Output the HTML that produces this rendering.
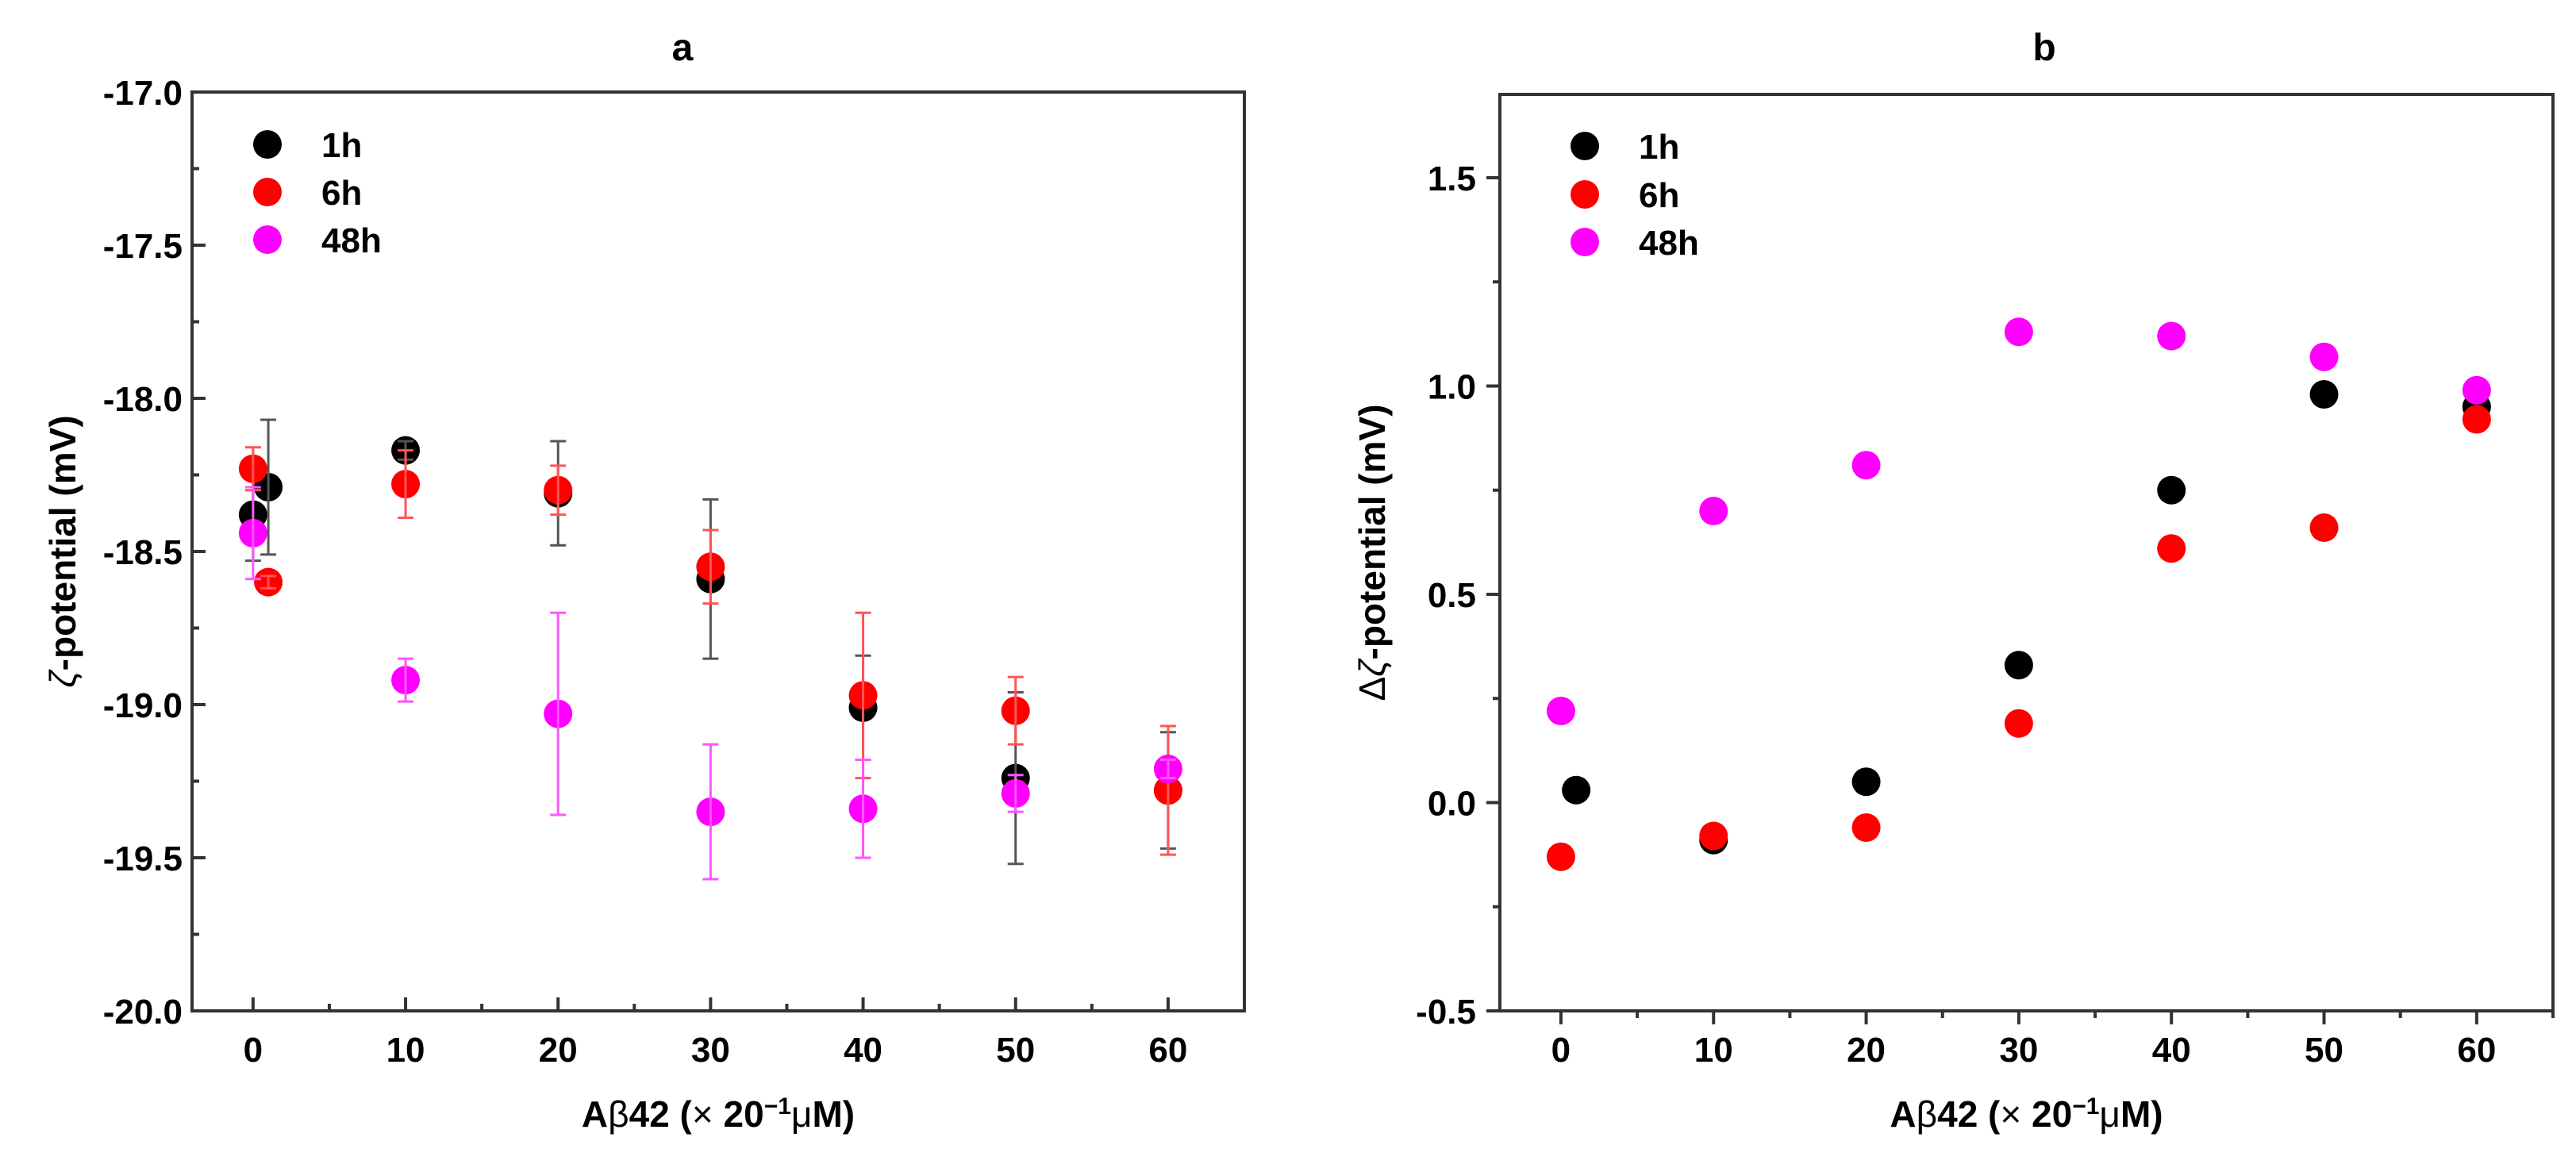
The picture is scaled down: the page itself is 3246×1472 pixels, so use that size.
<!DOCTYPE html>
<html><head><meta charset="utf-8"><style>
html,body{margin:0;padding:0;background:#fff;}
svg{display:block;font-family:"Liberation Sans",Arial,sans-serif;}
</style></head><body>
<svg id="fig" width="3246" height="1472" viewBox="0 0 3246 1472" xmlns="http://www.w3.org/2000/svg"></svg>
<script>
// Panel a data
const aX1h = [0, 1, 10, 20, 30, 40, 50, 60];
const aY1h = [-18.38, -18.29, -18.17, -18.31, -18.59, -19.01, -19.24, -19.28];
const aE1h = [0.15, 0.22, 0.03, 0.17, 0.26, 0.17, 0.28, 0.19];
const aX6h = [0, 1, 10, 20, 30, 40, 50, 60];
const aY6h = [-18.23, -18.60, -18.28, -18.30, -18.55, -18.97, -19.02, -19.28];
const aE6h = [0.07, 0.02, 0.11, 0.08, 0.12, 0.27, 0.11, 0.21];
const aX48h = [0, 10, 20, 30, 40, 50, 60];
const aY48h = [-18.44, -18.92, -19.03, -19.35, -19.34, -19.29, -19.21];
const aE48h = [0.15, 0.07, 0.33, 0.22, 0.16, 0.06, 0.03];
// Panel b data
const bX1h = [1, 10, 20, 30, 40, 50, 60];
const bY1h = [0.03, -0.09, 0.05, 0.33, 0.75, 0.98, 0.95];
const bX6h = [0, 10, 20, 30, 40, 50, 60];
const bY6h = [-0.13, -0.08, -0.06, 0.19, 0.61, 0.66, 0.92];
const bX48h = [0, 10, 20, 30, 40, 50, 60];
const bY48h = [0.22, 0.70, 0.81, 1.13, 1.12, 1.07, 0.99];
const xTicks = [0, 10, 20, 30, 40, 50, 60];
const aYTicks = [-20.0, -19.5, -19.0, -18.5, -18.0, -17.5, -17.0];
const bYTicks = [-0.5, 0.0, 0.5, 1.0, 1.5];
const seriesNames = ["1h", "6h", "48h"];
const seriesColors = ["#000000", "#ff0000", "#ff00ff"];
const errColors = ["#555555", "#ff5555", "#ff55ff"];

const NS = "http://www.w3.org/2000/svg";
const svg = document.getElementById("fig");
function mk(tag, attrs, parent, text) {
  const e = document.createElementNS(NS, tag);
  for (const k in attrs) e.setAttribute(k, attrs[k]);
  if (text !== undefined) e.textContent = text;
  (parent || svg).appendChild(e);
  return e;
}
function scale(d0, d1, r0, r1) { return v => r0 + (v - d0) / (d1 - d0) * (r1 - r0); }

function panel(cfg) {
  const g = mk("g", {});
  
  
  const sx = scale(-4, 65, cfg.L, cfg.R);
  const sy = scale(cfg.ymin, cfg.ymax, cfg.B, cfg.T);
  const dir = cfg.inward ? -1 : 1;
  // frame
  const fr = mk("rect", {x: cfg.L, y: cfg.T, width: cfg.R - cfg.L, height: cfg.B - cfg.T, fill: "none", stroke: "#333", "stroke-width": 4}, g);
  
  
  // x ticks
  for (let v = 0; v <= 65; v += 5) {
    const major = v % 10 === 0;
    const len = major ? 17 : 9;
    mk("line", {x1: sx(v), x2: sx(v), y1: cfg.B, y2: cfg.B + dir * len, stroke: "#333", "stroke-width": 4}, g);
  }
  xTicks.forEach(v => {
    const t = mk("text", {x: sx(v), y: 1338, "text-anchor": "middle", "font-size": 44, "font-weight": "bold"}, g, String(v));
    
    
  });
  // y ticks
  const step = 0.25;
  for (let v = cfg.ymin; v <= cfg.ymax + 1e-6; v += step) {
    const major = Math.abs(Math.round(v / 0.5) * 0.5 - v) < 1e-6;
    const len = major ? 17 : 9;
    mk("line", {x1: cfg.L, x2: cfg.L - dir * len, y1: sy(v), y2: sy(v), stroke: "#333", "stroke-width": 4}, g);
  }
  cfg.yTicks.forEach(v => {
    const t = mk("text", {x: cfg.L - (cfg.inward ? 12 : 30), y: sy(v) + 16, "text-anchor": "end", "font-size": 44, "font-weight": "bold"}, g, v.toFixed(1));
    
    
  });
  // title
  const ti = mk("text", {x: cfg.titleX, y: 76, "text-anchor": "middle", "font-size": 48, "font-weight": "bold"}, g, cfg.title);
  
  
  // x label
  const xl = mk("text", {x: (cfg.L + cfg.R) / 2, y: 1420, "text-anchor": "middle", "font-size": 46, "font-weight": "bold"}, g);
  
  
  mk("tspan", {}, xl, "A");
  mk("tspan", {"font-weight": "normal"}, xl, "β");
  mk("tspan", {}, xl, "42 (");
  mk("tspan", {"font-weight": "normal"}, xl, "× ");
  mk("tspan", {}, xl, "20");
  mk("tspan", {dy: -16, "font-size": 30}, xl, "−1");
  mk("tspan", {dy: 16, "font-weight": "normal"}, xl, "μ");
  mk("tspan", {}, xl, "M)");
  // y label
  const cy = (cfg.T + cfg.B) / 2;
  const yl = mk("text", {x: cfg.ylabX, y: cy, "text-anchor": "middle", "font-size": 46, "font-weight": "bold", transform: `rotate(-90 ${cfg.ylabX} ${cy})`}, g);
  
  
  if (cfg.delta) mk("tspan", {"font-weight": "normal"}, yl, "Δ");
  mk("tspan", {"font-style": "italic", "font-weight": "normal"}, yl, "ζ");
  mk("tspan", {}, yl, "-potential (mV)");
  // series
  cfg.series.forEach((s, i) => {
    const sg = mk("g", {}, g);
    
    
    s.x.forEach((xv, j) => {
      const c = mk("circle", {cx: sx(xv), cy: sy(s.y[j]), r: 18, fill: seriesColors[i]}, sg);
      
      
    });
    if (s.e) s.x.forEach((xv, j) => {
      const x = sx(xv), y1 = sy(s.y[j] + s.e[j]), y2 = sy(s.y[j] - s.e[j]);
      const eg = mk("g", {stroke: errColors[i], "stroke-width": 3}, sg);
      
      
      mk("line", {x1: x, x2: x, y1: y1, y2: y2}, eg);
      mk("line", {x1: x - 10, x2: x + 10, y1: y1, y2: y1}, eg);
      mk("line", {x1: x - 10, x2: x + 10, y1: y2, y2: y2}, eg);
    });
  });
  // legend
  const lg = mk("g", {}, g);
  
  
  seriesNames.forEach((n, i) => {
    const ly = cfg.legY[i];
    const le = mk("g", {}, lg);
    
    
    mk("circle", {cx: cfg.legX, cy: ly, r: 18, fill: seriesColors[i]}, le);
    mk("text", {x: cfg.legX + 68, y: ly + 16, "font-size": 44, "font-weight": "bold"}, le, n);
  });
}

panel({name: "panel-a", L: 242, R: 1568, T: 116, B: 1274, ymin: -20, ymax: -17, inward: true,
  yTicks: aYTicks, title: "a", titleX: 860, ylabX: 95, delta: false,
  legX: 337, legY: [182, 242, 302],
  series: [{x: aX1h, y: aY1h, e: aE1h}, {x: aX6h, y: aY6h, e: aE6h}, {x: aX48h, y: aY48h, e: aE48h}]});
panel({name: "panel-b", L: 1890, R: 3217, T: 119, B: 1274, ymin: -0.5, ymax: 1.7, inward: false,
  yTicks: bYTicks, title: "b", titleX: 2576, ylabX: 1745, delta: true,
  legX: 1997, legY: [184, 245, 305],
  series: [{x: bX1h, y: bY1h}, {x: bX6h, y: bY6h}, {x: bX48h, y: bY48h}]});
</script>
</body></html>
